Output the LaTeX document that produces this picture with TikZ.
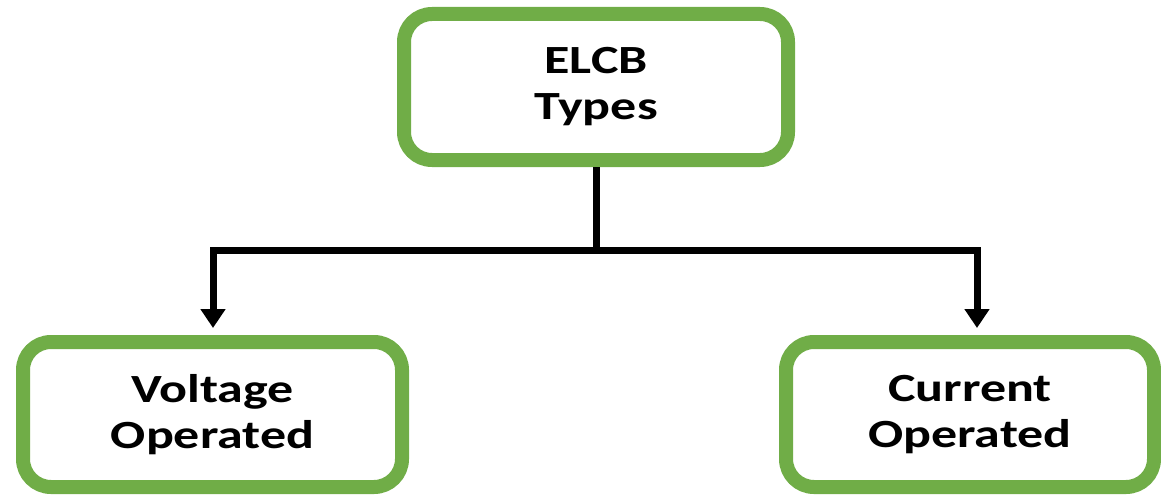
\documentclass[tikz,border=0pt]{standalone}
\usepackage{fontspec}
\usepackage{graphicx}
\setmainfont{Carlito}
\usetikzlibrary{arrows.meta}
\definecolor{boxgreen}{HTML}{70AD47}
\newcommand{\wx}[1]{\scalebox{1.3}[1]{#1}}
\begin{document}
\begin{tikzpicture}[x=1pt,y=-1pt,
  gbox/.style={draw=boxgreen, line width=14pt, rounded corners=28pt, fill=white,
    align=center, font=\fontsize{40}{46}\selectfont\bfseries, inner sep=0pt},
  conn/.style={line width=7pt, draw=black},
  arr/.style={conn, -{Triangle[width=24pt,length=19pt]}, shorten >=7pt}]
\useasboundingbox (0,0) rectangle (1161,495);
\node[gbox, minimum width=384pt, minimum height=146pt] (top) at (596,87) {\wx{ELCB}\\\wx{Types}};
\node[gbox, minimum width=379pt, minimum height=145pt] (left) at (212.5,414.5) {\wx{Voltage}\\\wx{Operated}};
\node[gbox, minimum width=368pt, minimum height=145pt] (right) at (970,414.5) {\wx{Current}\\\wx{Operated}};
\coordinate (jn) at (596,250);
\draw[conn] (top.south) -- (jn);
\draw[arr] (jn) -| ([xshift=0.5pt]left.north);
\draw[arr] (jn) -| ([xshift=7pt]right.north);
\end{tikzpicture}
\end{document}
